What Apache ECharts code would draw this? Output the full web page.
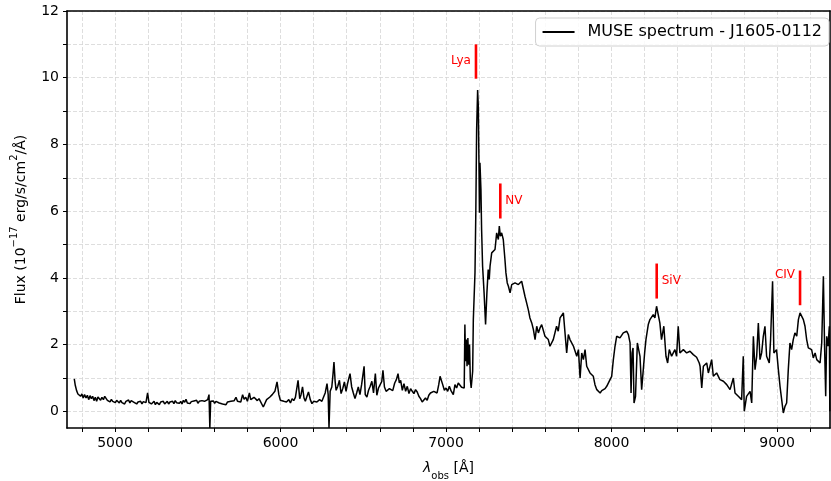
<!DOCTYPE html>
<html>
<head>
<meta charset="utf-8">
<script src="https://cdn.jsdelivr.net/npm/echarts@6/dist/echarts.min.js"></script>
<style>html,body{margin:0;padding:0;background:#fff}#c{width:831px;height:481px}</style>
</head>
<body>
<div id="c"></div>
<script>
// ---- data ----
const wave = [
4754,4760,4768,4776,4784,4792,4800,4808,4816,4825,4833,4841,4849,4857,4865,4873,4881,4889,4897,4905,4913,4921,4930,4938,4946,4954,4962,4970,4978,4986,4994,5002,5010,5018,5026,5034,5042,5050,5058,5066,5074,5082,5090,5098,5107,5115,5123,5131,5139,5147,5155,5163,5171,5179,5187,5197,5205,5213,5220,5228,5236,5244,5252,5260,5268,5276,5284,5292,5300,5308,5316,5324,5332,5340,5348,5356,5364,5372,5380,5389,5397,5405,5413,5421,5429,5437,5445,5453,5461,5469,5477,5485,5493,5501,5509,5517,5525,5533,5541,5550,5560,5568,5573,5578,5586,5594,5602,5610,5618,5630,5640,5650,5660,5671,5680,5690,5700,5711,5720,5731,5740,5750,5760,5771,5780,5790,5800,5812,5820,5830,5840,5852,5860,5870,
5876,5896,5916,5936,5950,5966,5979,5990,5999,6010,6020,6036,6050,6060,6070,6080,6090,6106,6116,6124,6133,6142,6150,6160,6169,6180,6190,6200,6210,6220,6236,6250,6262,6270,6281,6288,6293,6300,6310,6317,6323,6330,6336,6346,6356,6366,6376,6386,6396,6406,6420,6430,6440,6450,6460,6470,6480,6490,6505,6512,6522,6532,6542,6552,6562,6573,6582,6592,6602,6612,6619,6628,6638,6648,6658,6668,6678,6690,6700,6710,6718,6726,6736,6746,6756,6766,6776,6786,6796,6806,6816,6826,6836,6846,6856,6866,6876,6886,6896,6906,6916,6926,6936,6946,6956,6964,6970,
6980,6990,7000,7010,7020,7030,7044,7054,7064,7074,7084,7094,7104,7110,7114,7118,7122,7127,7132,7137,7142,7147,7152,7157,7161,7165,7175,7180,7185,7191,7195,7199,7202,7205,7211,7215,7221,7230,7239,7247,7255,7261,7266,7276,7286,7296,7306,7316,7322,7328,7336,7346,7356,7362,7370,7377,7387,7397,7417,7437,7457,7467,7477,7487,7497,7507,7518,7528,7538,7548,7558,7568,7578,7588,7598,7608,7618,7628,7648,7668,7678,7689,7709,7719,7729,7739,7749,7759,7770,7780,7790,7800,7810,7820,7830,7840,7850,7860,7870,7890,7900,7911,7931,7941,7951,7961,7971,7991,8001,8011,8021,8031,8051,8071,8092,8102,8112,8118,8124,8130,8136,8145,8156,8164,8172,8182,8192,8200,8208,8222,8232,8252,8262,8272,8282,8292,8302,8316,8329,8339,8349,8363,8373,8383,8393,8403,8413,8434,8454,8474,8494,8514,8530,8535,8545,8555,8575,8585,8605,8615,8635,8655,8676,8696,8716,8736,8746,8766,8786,8796,8802,8816,8837,8847,8857,8867,8877,8887,8897,8907,8917,8927,8937,8953,8961,8973,8981,8997,9008,9018,9028,9038,9048,9058,9068,9078,9088,9098,9108,9119,9129,9139,9149,9159,9169,9179,9189,9199,9209,9219,9230,9240,9250,9260,9270,9280,9287,9294,9300,9308,9316,9319
];
const flux = [
0.97,0.78,0.62,0.52,0.55,0.45,0.52,0.4,0.5,0.4,0.48,0.35,0.47,0.38,0.45,0.32,0.42,0.3,0.43,0.45,0.33,0.42,0.35,0.45,0.5,0.33,0.38,0.28,0.36,0.3,0.35,0.26,0.33,0.28,0.25,0.33,0.26,0.3,0.22,0.3,0.27,0.34,0.25,0.32,0.35,0.27,0.3,0.22,0.28,0.25,0.3,0.22,0.29,0.24,0.26,0.55,0.27,0.3,0.22,0.25,0.3,0.2,0.27,0.23,0.2,0.28,0.24,0.3,0.22,0.26,0.3,0.22,0.28,0.25,0.3,0.23,0.32,0.26,0.3,0.24,0.3,0.22,0.33,0.27,0.36,0.25,0.3,0.23,0.29,0.24,0.31,0.26,0.33,0.24,0.3,0.25,0.32,0.27,0.3,0.28,0.35,0.5,-0.5,0.3,0.26,0.31,0.24,0.3,0.26,0.25,0.3,0.22,0.27,0.2,0.28,0.24,0.3,0.25,0.32,0.42,0.3,0.35,0.28,0.5,0.36,0.42,0.3,0.55,0.35,0.3,0.42,0.45,0.32,0.38,
0.33,0.13,0.35,0.43,0.5,0.6,0.88,0.5,0.33,0.38,0.3,0.28,0.35,0.25,0.38,0.32,0.42,0.93,0.38,0.5,0.73,0.4,0.3,0.45,0.58,0.35,0.23,0.3,0.25,0.28,0.35,0.3,0.45,0.55,0.83,0.5,-0.5,0.6,0.73,1.1,1.48,0.9,0.63,0.75,0.93,0.53,0.68,0.88,0.6,0.85,1.13,0.73,0.55,0.38,0.55,0.73,0.5,0.8,1.35,0.5,0.43,0.63,0.75,0.9,0.55,1.13,0.48,0.7,0.65,0.9,1.23,0.73,0.6,0.58,0.68,0.73,0.62,0.85,0.95,1.13,0.85,0.93,0.63,0.83,0.6,0.75,0.53,0.68,0.6,0.53,0.65,0.58,0.45,0.38,0.28,0.25,0.4,0.33,0.48,0.55,0.5,0.6,0.63,0.55,0.8,1.05,1.1,
0.8,0.63,0.7,0.6,0.75,0.62,0.5,0.8,0.7,0.85,0.83,0.72,0.75,0.7,2.6,1.5,2.15,1.35,2.2,1.4,2.0,0.95,0.7,0.65,1.2,2.75,4.15,5.95,8.45,9.63,9.15,7.45,5.95,7.45,6.65,5.45,4.35,3.55,2.6,3.55,4.25,3.95,4.35,4.75,4.8,4.85,5.35,5.15,5.55,5.25,5.35,5.15,4.55,4.15,3.85,3.75,3.55,3.8,3.85,3.8,3.9,3.85,3.45,3.25,3.05,2.8,2.65,2.45,2.15,2.55,2.35,2.5,2.6,2.65,2.25,2.2,2.15,1.95,2.15,2.55,2.4,2.8,2.95,3.0,1.75,2.3,2.15,2.1,1.95,1.8,1.65,1.85,1.0,1.75,1.55,1.85,1.35,1.4,1.15,1.05,0.8,0.65,0.55,0.62,0.6,0.68,0.75,0.95,1.05,1.55,1.95,2.25,2.2,2.35,2.4,2.3,2.05,0.55,1.75,1.9,0.25,0.45,2.05,2.1,1.65,0.65,0.65,1.75,2.15,2.6,2.75,2.9,2.8,3.15,3.2,2.65,2.15,2.55,1.65,1.45,1.85,1.65,1.75,1.85,1.65,2.55,1.75,1.85,1.75,1.8,1.7,1.62,1.45,1.35,0.7,1.35,1.45,1.15,1.55,1.05,1.15,0.95,0.9,0.8,0.65,1.0,0.55,0.45,0.35,1.65,0.0,0.45,0.6,0.25,2.25,1.25,1.65,2.65,1.55,1.75,2.25,2.55,1.65,1.45,2.15,3.9,1.75,1.85,1.25,0.75,0.35,-0.05,0.15,0.25,1.25,2.05,1.85,2.15,2.35,2.25,2.75,2.95,2.9,2.75,2.55,2.15,1.9,1.85,1.85,1.6,1.75,1.55,1.5,1.45,2.05,4.05,2.0,0.45,2.25,1.95,2.55,0.0
];
const seriesName = 'MUSE spectrum - J1605-0112';

// emission line markers
const lineNames = ['Lya', 'NV', 'SiV', 'CIV'];
const lineWave  = [7181, 7328, 8273, 9139];
const lineLow   = [9.97, 5.78, 3.38, 3.18];
const lineHigh  = [11.0, 6.83, 4.43, 4.22];
const labelY    = [10.5, 6.32, 3.92, 4.1];
const labelSide = ['left', 'right', 'right', 'left'];

// ticks
const xTickLabels = [5000, 6000, 7000, 8000, 9000];
const xTicks = [4800,5000,5200,5400,5600,5800,6000,6200,6400,6600,6800,7000,7200,7400,7600,7800,8000,8200,8400,8600,8800,9000,9200];
const yTickLabels = [0, 2, 4, 6, 8, 10, 12];
const yTicks = [0,1,2,3,4,5,6,7,8,9,10,11,12];

const font = 'DejaVu Sans';
const chart = echarts.init(document.getElementById('c'), null, {renderer: 'canvas'});
const spec = wave.map((w, i) => [w, flux[i]]);
const marks = lineWave.map((w, i) => [w, lineLow[i], lineHigh[i], labelY[i]]);
const plain = v => String(v);
const border = {show: true, onZero: false, lineStyle: {color: '#000', width: 1.6}};

chart.setOption({
  animation: false,
  backgroundColor: '#fff',
  grid: {left: 67, right: 1, top: 11, bottom: 53, outerBoundsMode: 'none', containLabel: false},
  legend: {
    data: [seriesName], right: 2, top: 18, icon: 'rect', itemWidth: 32, itemHeight: 2,
    textStyle: {fontSize: 16, fontFamily: font, color: '#000', padding: [0, 0, 0, 8]},
    borderColor: '#d0d0d0', borderWidth: 1, borderRadius: 4, padding: [6, 7, 6, 7],
    backgroundColor: 'rgba(255,255,255,0.85)'
  },
  xAxis: [{
    type: 'value', min: 4710, max: 9320, position: 'bottom',
    name: '{i|λ}{s|obs}{t| [Å]}', nameLocation: 'middle', nameGap: 30,
    nameTextStyle: {fontFamily: font, fontSize: 14, color: '#000',
      rich: {i: {fontStyle: 'italic', fontSize: 14, fontFamily: font, lineHeight: 20, verticalAlign: 'middle'},
             s: {fontSize: 10, fontFamily: font, lineHeight: 20, verticalAlign: 'bottom', padding: [0,0,-3,0]},
             t: {fontSize: 14, fontFamily: font, lineHeight: 20, verticalAlign: 'middle'}}},
    axisLine: border,
    axisTick: {show: true, length: 4, lineStyle: {color: '#000', width: 1}, customValues: xTicks},
    axisLabel: {customValues: xTickLabels, formatter: plain, fontFamily: font, fontSize: 14, color: '#000', margin: 8},
    splitLine: {show: true, lineStyle: {color: '#d6d6d6', width: 0.8, type: [4, 2]}}
  }, {
    type: 'value', min: 4710, max: 9320, position: 'top',
    axisLine: border, axisTick: {show: false}, axisLabel: {show: false}, splitLine: {show: false}
  }],
  yAxis: [{
    type: 'value', min: -0.5, max: 12, position: 'left',
    name: '{t|Flux (10}{p|−17}{t| erg/s/cm}{p|2}{t|/Å)}', nameLocation: 'middle', nameGap: 36,
    nameTextStyle: {fontFamily: font, fontSize: 14, color: '#000',
      rich: {t: {fontSize: 14, fontFamily: font, lineHeight: 20, verticalAlign: 'middle'},
             p: {fontSize: 10, fontFamily: font, lineHeight: 20, verticalAlign: 'top', padding: [-2,0,0,0]}}},
    axisLine: border,
    axisTick: {show: true, length: 4, lineStyle: {color: '#000', width: 1}, customValues: yTicks},
    axisLabel: {customValues: yTickLabels, formatter: plain, fontFamily: font, fontSize: 14, color: '#000', margin: 8},
    splitLine: {show: true, lineStyle: {color: '#d6d6d6', width: 0.8, type: [4, 2]}}
  }, {
    type: 'value', min: -0.5, max: 12, position: 'right',
    axisLine: border, axisTick: {show: false}, axisLabel: {show: false}, splitLine: {show: false}
  }],
  series: [
    {
      name: seriesName, type: 'line', data: spec, showSymbol: false, symbol: 'none',
      lineStyle: {color: '#000', width: 1.5}, itemStyle: {color: '#000'}, sampling: 'none', z: 3
    },
    {
      name: 'lines', type: 'custom', data: marks, z: 4,
      encode: {x: 0, y: [1, 2]},
      renderItem: function (params, api) {
        const i = params.dataIndex;
        const p1 = api.coord([api.value(0), api.value(1)]);
        const p2 = api.coord([api.value(0), api.value(2)]);
        const pl = api.coord([api.value(0), api.value(3)]);
        const left = labelSide[i] === 'left';
        return {type: 'group', children: [
          {type: 'line', shape: {x1: p1[0], y1: p1[1], x2: p2[0], y2: p2[1]}, style: {stroke: '#ff0000', lineWidth: 2.6}},
          {type: 'text', x: pl[0] + (left ? -5 : 5), y: pl[1],
           style: {text: lineNames[i], fill: '#ff0000', fontSize: 12, fontFamily: font, align: left ? 'right' : 'left', verticalAlign: 'middle'}}
        ]};
      }
    }
  ]
});
</script>
</body>
</html>
